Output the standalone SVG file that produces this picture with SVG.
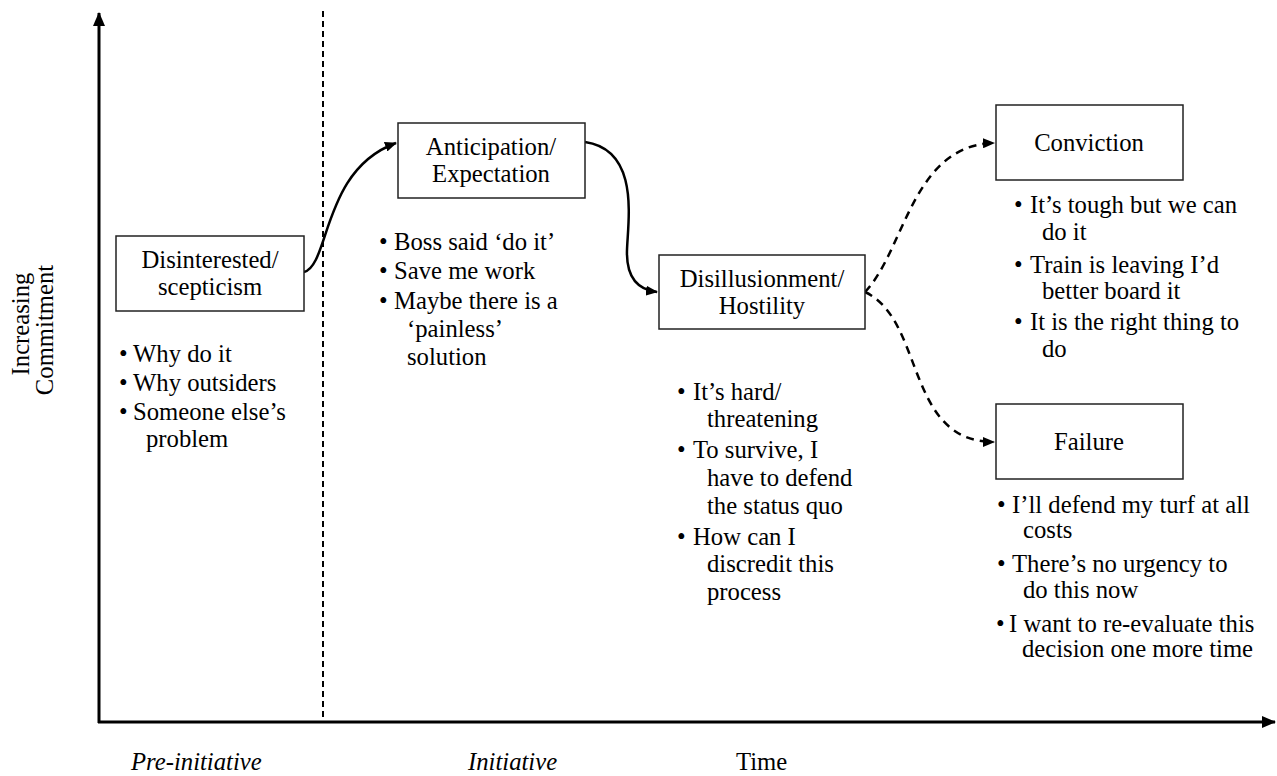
<svg xmlns="http://www.w3.org/2000/svg" width="1277" height="776" viewBox="0 0 1277 776">
<defs>
<marker id="ah" viewBox="0 0 12 10" refX="11" refY="5" markerWidth="12" markerHeight="10" markerUnits="userSpaceOnUse" orient="auto"><path d="M0,0 L12,5 L0,10 Z" fill="#000"/></marker>
<marker id="axh" viewBox="0 0 14 12" refX="13" refY="6" markerWidth="14" markerHeight="12" markerUnits="userSpaceOnUse" orient="auto"><path d="M0,0 L14,6 L0,12 Z" fill="#000"/></marker>
</defs>
<style>
text{font-family:"Liberation Serif","Times New Roman",serif;font-size:24.7px;fill:#000}
.c{text-anchor:middle}
.it{font-style:italic}
.box{fill:#fff;stroke:#222;stroke-width:1.5}
.axis{stroke:#000;stroke-width:3;fill:none}
.solid{stroke:#000;stroke-width:2.5;fill:none}
.dash{stroke:#000;stroke-width:2.5;fill:none;stroke-dasharray:8 6}
</style>
<rect width="1277" height="776" fill="#fff"/>
<g id="axes">
<line class="axis" x1="99" y1="723" x2="99" y2="13" marker-end="url(#axh)"/>
<line class="axis" x1="98" y1="722" x2="1275" y2="722" marker-end="url(#axh)"/>
<line x1="323" y1="11" x2="323" y2="722" stroke="#000" stroke-width="2" stroke-dasharray="6 4"/>
<text transform="translate(29,324) rotate(-90)" class="c">Increasing</text>
<text transform="translate(53,330) rotate(-90)" class="c">Commitment</text>
<text x="131" y="770" class="it">Pre-initiative</text>
<text x="468" y="770" class="it">Initiative</text>
<text x="736" y="770">Time</text>
</g>
<g id="connectors">
<path class="solid" d="M304,272 C330,265 322,170 396,143" marker-end="url(#ah)"/>
<path class="solid" d="M585,142 C640,150 628,220 627,250 C626,280 640,290 657,292" marker-end="url(#ah)"/>
<path class="dash" d="M865,292 C905,250 912,145 994,143" marker-end="url(#ah)"/>
<path class="dash" d="M865,292 C925,320 905,442 994,442" marker-end="url(#ah)"/>
</g>
<g id="disinterested">
<rect class="box" x="116" y="236" width="188" height="75"/>
<text x="210" y="268" class="c">Disinterested/</text>
<text x="210" y="295" class="c">scepticism</text>
<text x="119" y="362">•</text><text x="133" y="362">Why do it</text>
<text x="119" y="391">•</text><text x="133" y="391">Why outsiders</text>
<text x="119" y="420">•</text><text x="133" y="420">Someone else’s</text>
<text x="146" y="447">problem</text>
</g>
<g id="anticipation">
<rect class="box" x="398" y="123" width="187" height="75"/>
<text x="491" y="155" class="c">Anticipation/</text>
<text x="491" y="182" class="c">Expectation</text>
<text x="379" y="250">•</text><text x="394" y="250">Boss said ‘do it’</text>
<text x="379" y="279">•</text><text x="394" y="279">Save me work</text>
<text x="379" y="309">•</text><text x="394" y="309">Maybe there is a</text>
<text x="407" y="337">‘painless’</text>
<text x="407" y="365">solution</text>
</g>
<g id="disillusionment">
<rect class="box" x="659" y="255" width="206" height="74"/>
<text x="762" y="287" class="c">Disillusionment/</text>
<text x="762" y="314" class="c">Hostility</text>
<text x="677" y="400">•</text><text x="693" y="400">It’s hard/</text>
<text x="707" y="427">threatening</text>
<text x="677" y="458">•</text><text x="693" y="458">To survive, I</text>
<text x="707" y="486">have to defend</text>
<text x="707" y="514">the status quo</text>
<text x="677" y="545">•</text><text x="693" y="545">How can I</text>
<text x="707" y="572">discredit this</text>
<text x="707" y="600">process</text>
</g>
<g id="conviction">
<rect class="box" x="996" y="105" width="187" height="75"/>
<text x="1089" y="151" class="c">Conviction</text>
<text x="1014" y="213">•</text><text x="1030" y="213">It’s tough but we can</text>
<text x="1042" y="240">do it</text>
<text x="1014" y="273">•</text><text x="1030" y="273">Train is leaving I’d</text>
<text x="1042" y="299">better board it</text>
<text x="1014" y="330">•</text><text x="1030" y="330">It is the right thing to</text>
<text x="1042" y="357">do</text>
</g>
<g id="failure">
<rect class="box" x="996" y="404" width="187" height="75"/>
<text x="1089" y="450" class="c">Failure</text>
<text x="997" y="513">•</text><text x="1012" y="513">I’ll defend my turf at all</text>
<text x="1023" y="538">costs</text>
<text x="997" y="572">•</text><text x="1012" y="572">There’s no urgency to</text>
<text x="1023" y="598">do this now</text>
<text x="996" y="632">•</text><text x="1009" y="632">I want to re-evaluate this</text>
<text x="1022" y="657">decision one more time</text>
</g>
</svg>
